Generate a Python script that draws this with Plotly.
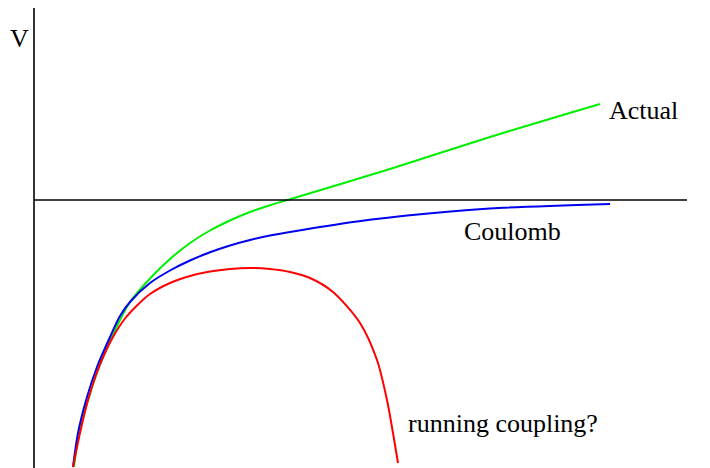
import plotly.graph_objects as go

# Data (arbitrary units: r horizontal, V vertical)
coulomb_r = [3.9, 4.4, 5.3, 6.3, 7.6, 8.6, 9.6, 11.6, 13.6, 15.6, 17.6, 19.6, 21.6, 23.6, 25.6, 32.3, 38.9, 45.6, 57.6]
coulomb_v = [-26.7, -23.3, -19.7, -16.7, -13.7, -11.6, -10.2, -8.3, -7.05, -6.05, -5.23, -4.55, -4.0, -3.56, -3.2, -2.15, -1.4, -0.85, -0.4]

actual_r = [4.0, 4.5, 5.5, 6.5, 7.8, 8.8, 9.6, 11.6, 13.6, 15.6, 17.6, 19.6, 21.6, 23.6, 25.6, 35.6, 45.6, 56.6]
actual_v = [-26.7, -23.3, -19.7, -16.7, -13.7, -11.6, -10.2, -7.85, -5.9, -4.3, -3.05, -2.05, -1.2, -0.52, 0.07, 3.1, 6.3, 9.6]

running_r = [3.9, 4.6, 5.4, 6.2, 7.0, 7.9, 9.1, 10.3, 11.6, 13.6, 15.6, 17.6, 19.6, 21.6, 23.6, 25.6, 27.6, 29.9, 32.6, 34.3, 35.3, 35.9, 36.4]
running_v = [-26.7, -23.3, -20.0, -17.5, -15.5, -13.7, -11.85, -10.55, -9.4, -8.3, -7.6, -7.15, -6.9, -6.8, -6.9, -7.2, -7.8, -9.2, -12.3, -16.0, -20.0, -23.3, -26.3]

labels = ["V", "r", "Actual", "Coulomb", "running coupling?"]
label_r = [-2.6, 66.6, 57.3, 42.8, 37.2]
label_v = [16.2, 0.2, 9.0, -3.1, -22.3]

fig = go.Figure()
fig.add_trace(go.Scatter(x=actual_r, y=actual_v, mode="lines",
                         line=dict(color="#00ee00", width=2, shape="spline", smoothing=0.8)))
fig.add_trace(go.Scatter(x=coulomb_r, y=coulomb_v, mode="lines",
                         line=dict(color="#0000ee", width=2, shape="spline", smoothing=0.8)))
fig.add_trace(go.Scatter(x=running_r, y=running_v, mode="lines",
                         line=dict(color="#ff0000", width=2, shape="spline", smoothing=0.8)))

# axes drawn as lines
fig.add_shape(type="line", x0=0, x1=0, y0=-27.0, y1=19.2, line=dict(color="black", width=1.6))
fig.add_shape(type="line", x0=0, x1=65.3, y0=0, y1=0, line=dict(color="black", width=1.6))

for t, x, y in zip(labels, label_r, label_v):
    fig.add_annotation(x=x, y=y, text=t, showarrow=False, xanchor="left", yanchor="middle",
                       font=dict(family="Liberation Serif", size=26, color="black"))

fig.update_layout(
    width=702, height=460,
    margin=dict(l=0, r=0, t=0, b=0),
    plot_bgcolor="white", paper_bgcolor="white",
    showlegend=False,
    xaxis=dict(range=[-2.6, 67.6], visible=False, fixedrange=True),
    yaxis=dict(range=[-26.8, 19.2], visible=False, fixedrange=True),
)
fig.write_html("out.html")
